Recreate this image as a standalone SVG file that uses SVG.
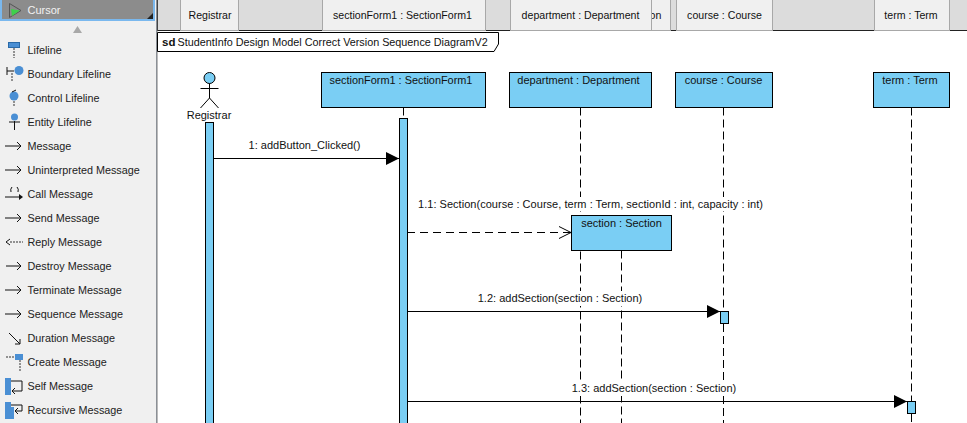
<svg xmlns="http://www.w3.org/2000/svg" width="967" height="423" viewBox="0 0 967 423">
<style>
text{font-family:"Liberation Sans",Arial,sans-serif;font-size:11px;fill:#111}
.side{fill:#222;font-size:10.800px}
.mid{text-anchor:middle}
.tabt{font-size:10.600px}
.tab{fill:#f0f0f0;stroke:#a8a8a8;stroke-width:1}
.box{fill:#7acef4;stroke:#000;stroke-width:1}
.life{stroke:#000;stroke-width:1;stroke-dasharray:8 4;fill:none}
.msg{stroke:#000;stroke-width:1;fill:none}
.ic{stroke:#111;stroke-width:1;fill:none}
.icd{stroke:#333;stroke-width:1;stroke-dasharray:2 1;fill:none}
.blue{fill:#4a8fd4}
.bg{fill:#fff}
</style>
<defs>
<marker id="solid" markerUnits="userSpaceOnUse" markerWidth="14" markerHeight="14" refX="13" refY="7" orient="auto"><path d="M0 0.500L13 7L0 13.500Z" fill="#000"/></marker>
<marker id="open" markerUnits="userSpaceOnUse" markerWidth="14" markerHeight="14" refX="13" refY="7" orient="auto"><path d="M1 1L13 7L1 13" fill="none" stroke="#000"/></marker>
<path id="ar" d="M5 0H21M17 -4L21 0L17 4" class="ic"/>
</defs>
<rect width="967" height="423" fill="#fff"/>
<g id="palette">
<rect x="0" y="0" width="156" height="423" fill="#f0f0f0"/>
<line x1="156.500" y1="0" x2="156.500" y2="423" stroke="#8a8f96"/>
<rect x="1" y="-1" width="153" height="21" fill="#8c8c8c" stroke="#7ab8ee" stroke-width="2"/>
<path d="M9.500 3.500L21 10.500L9.500 17.500Z" fill="#8c8c8c" stroke="#555"/>
<path d="M11 9L20 10.500L12 16Z" fill="#3fd04a"/>
<path d="M153 19V13L147 19Z" fill="#222"/>
<text x="27.500" y="14" style="fill:#f2f2f2">Cursor</text>
<path d="M73 33L82 33L77.500 26Z" fill="#a8a8a8"/>
<g id="tool-lifeline"><rect x="8.500" y="42.500" width="11" height="5" class="blue" stroke="#2a6aa8"/><path d="M14 48V58" class="icd"/><text class="side" x="27.500" y="54">Lifeline</text></g>
<g id="tool-boundary"><circle cx="19" cy="70.500" r="4.500" class="blue"/><path d="M7 67V75M7 71H14" class="ic"/><path d="M12 73V81" class="icd"/><text class="side" x="27.500" y="78">Boundary Lifeline</text></g>
<g id="tool-control"><circle cx="14" cy="96" r="4.500" class="blue"/><path d="M12 92L16 90" class="ic"/><path d="M14 101V107" class="icd"/><text class="side" x="27.500" y="102">Control Lifeline</text></g>
<g id="tool-entity"><circle cx="14.500" cy="117" r="3.500" class="blue"/><path d="M9 122H20M14.500 121V130" class="ic"/><text class="side" x="27.500" y="126">Entity Lifeline</text></g>
<g id="tool-message"><use href="#ar" y="146"/><text class="side" x="27.500" y="150">Message</text></g>
<g id="tool-uninterpreted"><use href="#ar" y="170"/><text class="side" x="27.500" y="174">Uninterpreted Message</text></g>
<g id="tool-call"><path d="M11 192Q10 189 12 187M17 187Q19 189 18 192" class="ic"/><path d="M5 197H20" class="ic"/><path d="M19 194L23 197L19 200Z" fill="#111"/><text class="side" x="27.500" y="198">Call Message</text></g>
<g id="tool-send"><use href="#ar" y="218"/><text class="side" x="27.500" y="222">Send Message</text></g>
<g id="tool-reply"><path d="M10 242H23" class="icd"/><path d="M10 239L6 242L10 245" class="ic"/><text class="side" x="27.500" y="246">Reply Message</text></g>
<g id="tool-destroy"><path d="M6 266H21M17 262L21 266L17 270" class="ic" stroke-width="1.300"/><text class="side" x="27.500" y="270">Destroy Message</text></g>
<g id="tool-terminate"><use href="#ar" y="290"/><text class="side" x="27.500" y="294">Terminate Message</text></g>
<g id="tool-sequence"><use href="#ar" y="314"/><text class="side" x="27.500" y="318">Sequence Message</text></g>
<g id="tool-duration"><path d="M9 333L20 344M20 339V344H15" class="ic"/><text class="side" x="27.500" y="342">Duration Message</text></g>
<g id="tool-create"><rect x="15" y="354" width="8" height="6" class="blue"/><path d="M6 357H15M20 360V371" class="icd"/><text class="side" x="27.500" y="366">Create Message</text></g>
<g id="tool-self"><rect x="5" y="378" width="6" height="17" class="blue"/><path d="M11 381H22V391H12M15 388L12 391L15 394" class="ic"/><text class="side" x="27.500" y="390">Self Message</text></g>
<g id="tool-recursive"><rect x="5" y="402" width="6" height="17" class="blue"/><rect x="8" y="407" width="6" height="12" class="blue"/><path d="M11 405H22V411H15M18 408L15 411L18 414" class="ic"/><text class="side" x="27.500" y="414">Recursive Message</text></g>
</g>
<g id="header">
<line x1="157.500" y1="30" x2="157.500" y2="423" stroke="#bbb"/>
<rect x="157" y="0" width="810" height="30" fill="#dcdcdc"/>
<line x1="157" y1="30.500" x2="967" y2="30.500" stroke="#222"/>
<line x1="157.500" y1="0" x2="157.500" y2="31" stroke="#444"/>
<g id="tab-registrar"><rect class="tab" x="180.500" y="-1" width="58" height="31.500"/><text class="mid tabt" x="210" y="19">Registrar</text></g>
<g id="tab-sectionform"><rect class="tab" x="322.500" y="-1" width="163" height="31.500"/><text class="mid tabt" x="402.500" y="19">sectionForm1 : SectionForm1</text></g>
<g id="tab-section"><rect class="tab" x="610.500" y="-1" width="60" height="31.500"/><text class="tabt" x="649.500" y="19">on</text></g>
<g id="tab-department"><rect class="tab" x="510.500" y="-1" width="141" height="31.500"/><text class="mid tabt" x="580.500" y="19">department : Department</text></g>
<g id="tab-course"><rect class="tab" x="676.500" y="-1" width="96" height="31.500"/><text class="mid tabt" x="724.500" y="19">course : Course</text></g>
<g id="tab-term"><rect class="tab" x="874.500" y="-1" width="75" height="31.500"/><text class="mid tabt" x="911" y="19">term : Term</text></g>
</g>
<g id="frame">
<path d="M157.500 32.500H498.500V44L494 51.500H157.500Z" fill="#fff" stroke="#000"/>
<text x="162" y="46" style="font-weight:bold;font-size:11.500px">sd</text>
<text x="177.500" y="46" style="font-size:10.800px">StudentInfo Design Model Correct Version Sequence DiagramV2</text>
</g>
<g id="lifelines">
<path class="life" d="M403.500 107.500V118"/>
<path class="life" d="M580.500 107.500V423"/>
<path class="life" d="M723.500 107.500V311"/>
<path class="life" d="M723.500 324V423"/>
<path class="life" d="M911.500 107.500V401"/>
<path class="life" d="M911.500 414V423"/>
<path class="life" d="M621.500 250.500V423"/>
</g>
<g id="connectors">
<line class="msg" x1="213" y1="158.500" x2="399" y2="158.500" marker-end="url(#solid)"/>
<line class="msg" x1="407" y1="232.500" x2="571" y2="232.500" stroke-dasharray="8 5" marker-end="url(#open)"/>
<line class="msg" x1="407" y1="311.500" x2="720" y2="311.500" marker-end="url(#solid)"/>
<line class="msg" x1="407" y1="401.500" x2="907" y2="401.500" marker-end="url(#solid)"/>
<rect class="bg" x="417" y="197" width="348" height="14"/>
<rect class="bg" x="477" y="291" width="166" height="15"/>
<rect class="bg" x="570" y="381" width="167" height="15"/>
<text class="mid" x="304.500" y="149">1: addButton_Clicked()</text>
<text x="418" y="208" textLength="345">1.1: Section(course : Course, term : Term, sectionId : int, capacity : int)</text>
<text class="mid" x="560" y="302">1.2: addSection(section : Section)</text>
<text class="mid" x="654" y="392">1.3: addSection(section : Section)</text>
</g>
<g id="registrar">
<circle cx="209.500" cy="78" r="5.500" fill="#7acef4" stroke="#000"/>
<path d="M209.500 83.500V98M200.500 88.500H218.500M200.500 108L209.500 98L218.500 108" fill="none" stroke="#000"/>
<text class="mid" x="209" y="119">Registrar</text>
<rect class="box" x="205.500" y="122.500" width="8" height="302"/>
</g>
<g id="sectionform1">
<rect class="box" x="321.500" y="72.500" width="164" height="35"/>
<text class="mid" x="401" y="84" style="font-size:10.900px">sectionForm1 : SectionForm1</text>
<rect class="box" x="399.500" y="118.500" width="8" height="306"/>
</g>
<g id="department">
<rect class="box" x="509.500" y="72.500" width="142" height="35"/>
<text class="mid" x="578.500" y="84">department : Department</text>
</g>
<g id="course">
<rect class="box" x="675.500" y="72.500" width="97" height="35"/>
<text class="mid" x="723.500" y="84">course : Course</text>
<rect class="box" x="720.500" y="311.500" width="8" height="12"/>
</g>
<g id="term">
<rect class="box" x="873.500" y="72.500" width="76" height="35"/>
<text class="mid" x="910" y="84">term : Term</text>
<rect class="box" x="907.500" y="401.500" width="8" height="12"/>
</g>
<g id="section">
<rect class="box" x="571.500" y="215.500" width="100" height="35"/>
<text class="mid" x="621.500" y="227">section : Section</text>
</g>
</svg>
